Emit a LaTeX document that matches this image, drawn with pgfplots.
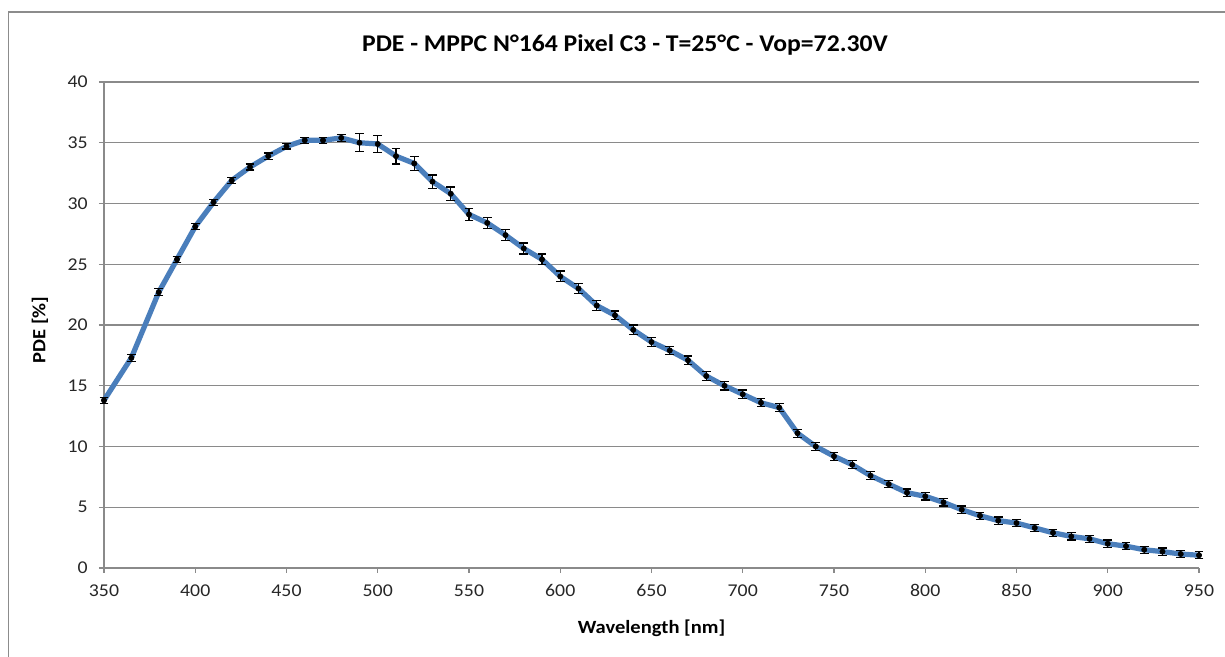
\documentclass[border=0pt]{standalone}
\usepackage{fontspec}
\setmainfont{Carlito}
\newfontfamily\widefont[FakeStretch=1.1]{Carlito}
\newfontfamily\titlefont[FakeStretch=1.07]{Carlito}
\usepackage{pgfplots}
\usepackage{pgfplotstable}
\pgfplotsset{compat=1.18}

\definecolor{pdeblue}{HTML}{4A7EBB}
\definecolor{framegray}{HTML}{8C8C8C}
\definecolor{gridgray}{HTML}{8A8A8A}

% wavelength [nm], PDE [%], error [%]
\pgfplotstableread{
x    y     e
350  13.8  0.25
365  17.3  0.30
380  22.7  0.28
390  25.4  0.25
400  28.1  0.25
410  30.1  0.25
420  31.9  0.25
430  33.0  0.25
440  33.9  0.25
450  34.7  0.22
460  35.2  0.25
470  35.2  0.25
480  35.4  0.28
490  35.0  0.75
500  34.9  0.70
510  33.9  0.65
520  33.3  0.60
530  31.8  0.55
540  30.8  0.55
550  29.1  0.50
560  28.4  0.45
570  27.4  0.45
580  26.3  0.45
590  25.4  0.45
600  24.0  0.45
610  23.0  0.42
620  21.6  0.40
630  20.8  0.35
640  19.6  0.40
650  18.6  0.35
660  17.9  0.35
670  17.1  0.35
680  15.8  0.35
690  15.0  0.35
700  14.3  0.35
710  13.6  0.33
720  13.2  0.33
730  11.1  0.33
740  10.0  0.33
750  9.2   0.32
760  8.5   0.32
770  7.6   0.32
780  6.9   0.30
790  6.2   0.30
800  5.9   0.30
810  5.4   0.30
820  4.8   0.30
830  4.3   0.30
840  3.9   0.30
850  3.7   0.30
860  3.3   0.30
870  2.9   0.30
880  2.6   0.30
890  2.4   0.30
900  2.0   0.30
910  1.8   0.30
920  1.5   0.30
930  1.35  0.30
940  1.15  0.30
950  1.05  0.30
}\pdedata

\begin{document}
\begin{tikzpicture}
\useasboundingbox (0,0) rectangle (918.75pt,492.75pt);
% chart frame
\draw[framegray, line width=1.1pt] (6.5pt,483.75pt) rectangle (940pt,-20pt);
\begin{axis}[
  at={(78pt,66.75pt)}, anchor=south west,
  scale only axis, width=821.25pt, height=364.5pt,
  xmin=350, xmax=950, ymin=0, ymax=40,
  xtick={350,400,...,950}, ytick={0,5,...,40},
  axis x line*=bottom, axis y line*=left,
  axis line style={gridgray, line width=0.8pt, -},
  tick align=outside, major tick length=3.75pt,
  tick style={gridgray, line width=0.8pt},
  ymajorgrids, grid style={gridgray, line width=0.8pt},
  /pgf/number format/assume math mode=true,
  ticklabel style={font=\widefont\fontsize{13.5}{16}\selectfont, text=black!85},
  xticklabel style={yshift=-5pt},
  yticklabel style={xshift=-5pt},
  title={PDE - MPPC N°164 Pixel C3 - T=25°C - Vop=72.30V},
  title style={at={(axis description cs:0.4758,1.047)}, anchor=base,
    font=\titlefont\fontsize{18}{21}\selectfont\bfseries},
  xlabel={Wavelength [nm]},
  xlabel style={at={(axis description cs:0.5,-0.1235)}, anchor=center,
    font=\widefont\fontsize{14}{16}\selectfont\bfseries},
  ylabel={PDE [\%]},
  ylabel style={at={(axis description cs:-0.0584,0.49)}, anchor=center, rotate=0,
    font=\widefont\fontsize{14}{16}\selectfont\bfseries},
  clip=false,
]
\addplot[pdeblue, line width=3.9pt, line join=round, line cap=round]
  table[x=x, y=y] {\pdedata};
\addplot[only marks, mark=none,
  error bars/.cd, y dir=both, y explicit,
  error bar style={black, line width=0.9pt, solid},
  error mark options={rotate=90, mark size=3.2pt, black, line width=0.9pt}]
  table[x=x, y=y, y error=e] {\pdedata};
\end{axis}
\end{tikzpicture}
\end{document}
